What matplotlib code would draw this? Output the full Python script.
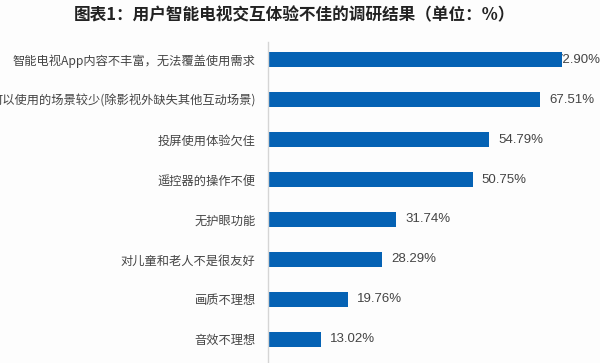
import matplotlib.pyplot as plt

plt.rcParams['font.family'] = ['Noto Sans CJK SC', 'DejaVu Sans']

# survey data
categories = ["智能电视App内容不丰富，无法覆盖使用需求",
              "可以使用的场景较少(除影视外缺失其他互动场景)",
              "投屏使用体验欠佳",
              "遥控器的操作不便",
              "无护眼功能",
              "对儿童和老人不是很友好",
              "画质不理想",
              "音效不理想"]
values = [72.90, 67.51, 54.79, 50.75, 31.74, 28.29, 19.76, 13.02]
value_labels = ["72.90%", "67.51%", "54.79%", "50.75%", "31.74%", "28.29%", "19.76%", "13.02%"]
title = "图表1：用户智能电视交互体验不佳的调研结果（单位：%）"

fig = plt.figure(figsize=(6, 3.63), dpi=100)
fig.set_facecolor("#fdfdfd")
ax = fig.add_axes([0.447, 0.0, 0.553, 1 - 42 / 363])
ax.set_facecolor("#fdfdfd")

pos = list(range(len(values)))
ax.barh(pos, values, height=0.375, color="#0562b4", zorder=2)
ax.set_xlim(0, 82.3)
ax.set_ylim(7.59, -0.44)

for i in pos:
	# first label sits partly under the bar in the original
	off = -5 if i == 0 else 6.5
	ax.annotate(value_labels[i], (values[i], i), xytext=(off, 0), textcoords="offset points",
	            ha="left", va="center", fontsize=9.5, color="#444444",
	            family=["Liberation Sans", "DejaVu Sans"], zorder=1)

ax.set_yticks(pos)
ax.set_yticklabels(categories, fontsize=8.8, color="#444444")
ax.tick_params(axis="y", length=0, pad=9)
ax.set_xticks([])
for s in ["top", "right", "bottom"]:
	ax.spines[s].set_visible(False)
ax.spines["left"].set_color("#d5d5d5")
ax.spines["left"].set_linewidth(1)

fig.text(0.49, 1 - 15 / 363, title, ha="center", va="center", fontsize=12,
         fontweight="bold", color="#222222")

plt.savefig("out.png", dpi=100, facecolor=fig.get_facecolor())
